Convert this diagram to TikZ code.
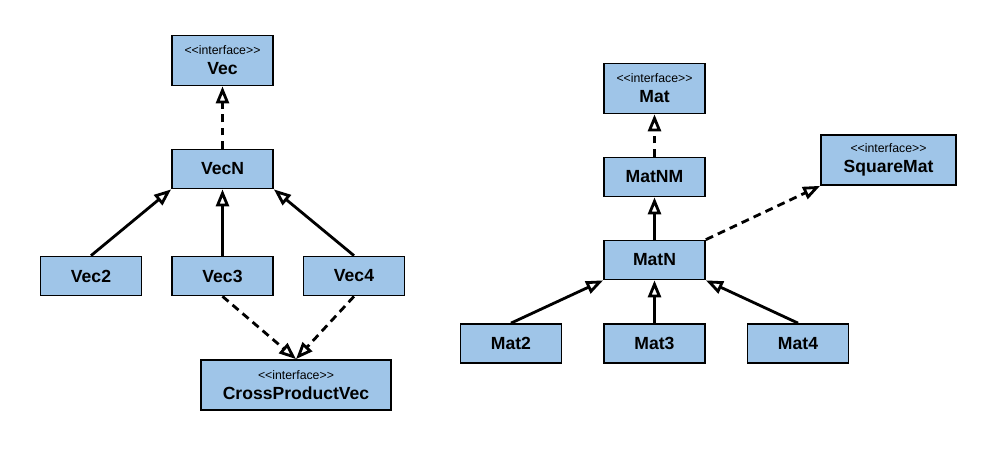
\documentclass[tikz,border=0pt]{standalone}
\usepackage{fontspec}
\setmainfont{Liberation Sans}
\usetikzlibrary{arrows.meta}
\definecolor{boxblue}{HTML}{9FC5E8}
\newcommand{\stereo}[1]{{\fontsize{7}{8}\selectfont\mdseries <\kern0pt<interface>\kern0pt>}\\#1}
\tikzset{
	klass/.style={draw, line width=1pt, fill=boxblue, minimum width=2.02cm, minimum height=0.78cm, inner sep=0pt, align=center, font=\fontsize{10}{11.5}\selectfont\bfseries},
	iface/.style={klass, minimum height=1cm},
	inherit/.style={line width=1.6pt, -{Triangle[open, length=3.4mm, width=2.6mm]}},
	realize/.style={inherit, dash pattern=on 4.5pt off 3pt}
}

\begin{document}
\begin{tikzpicture}
	\useasboundingbox (0,0) rectangle (20,9);
	\node[iface] (vec) at (4.45,7.79) {\stereo{Vec}};
	\node[klass] (vecN) at (4.45,5.62) {VecN};
	\node[klass] (vecII) at (1.82,3.48) {Vec2};
	\node[klass] (vecIII) at (4.45,3.48) {Vec3};
	\node[klass] (vecIV) at (7.08,3.48) {Vec4};
	\node[iface, minimum width=3.8cm] (cross) at (5.92,1.30) {\stereo{CrossProductVec}};
	\node[iface] (mat) at (13.09,7.23) {\stereo{Mat}};
	\node[klass] (matNM) at (13.09,5.46) {MatNM};
	\node[klass] (matN) at (13.09,3.8) {MatN};
	\node[iface, minimum width=2.7cm] (square) at (17.77,5.8) {\stereo{SquareMat}};
	\node[klass] (matII) at (10.22,2.13) {Mat2};
	\node[klass] (matIII) at (13.09,2.13) {Mat3};
	\node[klass] (matIV) at (15.96,2.13) {Mat4};

	\draw[realize] (vecN) -- (vec);
	\draw[inherit] (vecII.north) -- (vecN.south west);
	\draw[inherit] (vecIII) -- (vecN);
	\draw[inherit] (vecIV.north) -- (vecN.south east);
	\draw[realize] (vecIII.south) -- (cross.north);
	\draw[realize] (vecIV.south) -- (cross.north);

	\draw[realize] (matNM) -- (mat);
	\draw[inherit] (matN) -- (matNM);
	\draw[realize] (matN.north east) -- (square.south west);
	\draw[inherit] (matII.north) -- (matN.south west);
	\draw[inherit] (matIII) -- (matN);
	\draw[inherit] (matIV.north) -- (matN.south east);
\end{tikzpicture}
\end{document}
